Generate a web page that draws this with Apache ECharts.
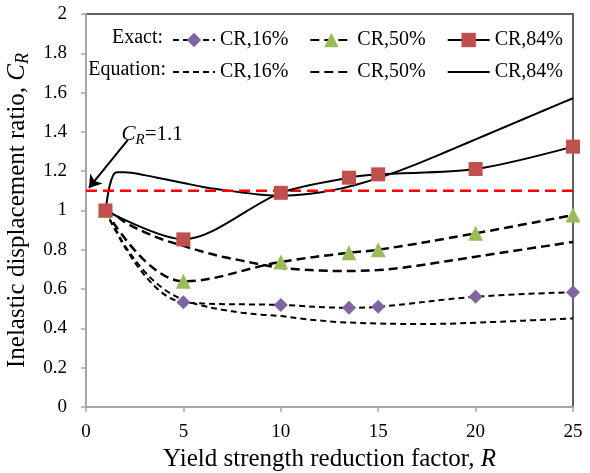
<!DOCTYPE html>
<html>
<head>
<meta charset="utf-8">
<script src="https://cdn.jsdelivr.net/npm/echarts@6/dist/echarts.min.js"></script>
<style>
  html, body { margin: 0; padding: 0; background: #fff; }
  #main { width: 590px; height: 473px; }
</style>
</head>
<body>
<div id="main"></div>
<script>
// exact results (markers)
const exactR = [1, 5, 10, 13.5, 15, 20, 25];
const exact16 = [1, 0.533, 0.519, 0.505, 0.51, 0.561, 0.584];
const exact50 = [1, 0.64, 0.738, 0.785, 0.8, 0.884, 0.977];
const exact84 = [1, 0.853, 1.09, 1.167, 1.184, 1.211, 1.325];

// equation curves
const eqR = [1, 1.2, 1.4, 1.6, 2, 3, 4, 5, 6, 7, 8, 9, 10, 11, 12, 13, 14, 15, 16, 17, 18, 19, 20, 21, 22, 23, 24, 25];
const eq16 = [1, 0.96, 0.92, 0.89, 0.82, 0.69, 0.6, 0.545, 0.515, 0.495, 0.48, 0.47, 0.463, 0.45, 0.44, 0.432, 0.428, 0.425, 0.423, 0.422, 0.423, 0.425, 0.429, 0.433, 0.437, 0.442, 0.446, 0.451];
const eq50 = [1, 0.99, 0.98, 0.97, 0.94, 0.89, 0.85, 0.82, 0.79, 0.765, 0.745, 0.725, 0.708, 0.7, 0.695, 0.692, 0.693, 0.697, 0.706, 0.719, 0.734, 0.749, 0.765, 0.78, 0.795, 0.81, 0.825, 0.84];
const eq84 = [1, 1.12, 1.18, 1.195, 1.195, 1.18, 1.16, 1.14, 1.12, 1.105, 1.092, 1.08, 1.074, 1.08, 1.092, 1.11, 1.135, 1.165, 1.199, 1.237, 1.278, 1.32, 1.362, 1.404, 1.446, 1.488, 1.53, 1.571];

const refValue = 1.1;
const arrowFrom = [2.15, 1.36];
const arrowTo = [0.15, 1.115];
const notePos = [3.4, 1.385];

const legendNames = {
  ex16: "CR,16%", ex50: "CR,50%", ex84: "CR,84%",
  eq16: "CR,16%", eq50: "CR,50%", eq84: "CR,84%",
};

const font = "Liberation Serif";
const pairs = (xs, ys) => xs.map((x, i) => [x, ys[i]]);

const chart = echarts.init(document.getElementById("main"));

const legendBase = {
  left: 167,
  itemWidth: 42,
  itemHeight: 18,
  itemGap: 21,
  selectedMode: false,
  formatter: (name) => legendNames[name],
  textStyle: { fontFamily: font, fontSize: 20, color: "#000" },
};

const subRich = (size, color) => ({
  c: { fontFamily: font, fontSize: size, fontStyle: "italic", color, lineHeight: size + 5, verticalAlign: "middle" },
  s: { fontFamily: font, fontSize: Math.round(size * 0.7), fontStyle: "italic", color, lineHeight: Math.round(size * 0.7), verticalAlign: "bottom" },
  t: { fontFamily: font, fontSize: size, color, lineHeight: size + 5, verticalAlign: "middle" },
});

const eqLine = (name, values, lineStyle) => ({
  name, type: "line", data: pairs(eqR, values),
  symbol: "none", smooth: 0.35,
  lineStyle: { color: "#000", ...lineStyle },
  itemStyle: { color: "#000" },
});

const option = {
  animation: false,
  grid: {
    left: 86, right: 17, top: 14, bottom: 66,
    show: true, borderColor: "#606060", borderWidth: 2,
    outerBoundsMode: "none",
  },
  legend: [
    { ...legendBase, top: 25, data: ["ex16", "ex50", "ex84"] },
    { ...legendBase, top: 57, data: ["eq16", "eq50", "eq84"], itemStyle: { opacity: 0 } },
  ],
  graphic: [
    { type: "text", x: 163, y: 38, style: { text: "Exact:", fontFamily: font, fontSize: 20, fill: "#000", align: "right", verticalAlign: "middle" } },
    { type: "text", x: 166, y: 70, style: { text: "Equation:", fontFamily: font, fontSize: 20, fill: "#000", align: "right", verticalAlign: "middle" } },
  ],
  xAxis: {
    type: "value", min: 0, max: 25, interval: 5,
    name: "{t|Yield strength reduction factor, }{c|R}",
    nameLocation: "middle", nameGap: 37,
    nameTextStyle: { fontFamily: font, fontSize: 25, color: "#000", rich: subRich(25, "#000") },
    axisLine: { lineStyle: { color: "#a6a6a6", width: 2 } },
    axisTick: { length: 5, lineStyle: { color: "#a6a6a6", width: 1.5 } },
    axisLabel: { fontFamily: font, fontSize: 19, color: "#000", margin: 16 },
    splitLine: { show: false },
  },
  yAxis: {
    type: "value", min: 0, max: 2, interval: 0.2,
    name: "{t|Inelastic displacement ratio, }{c|C}{s|R}",
    nameLocation: "middle", nameGap: 50, nameRotate: 90,
    nameTextStyle: { fontFamily: font, fontSize: 25, color: "#000", rich: subRich(25, "#000") },
    axisLine: { show: true, lineStyle: { color: "#a6a6a6", width: 2 } },
    axisTick: { show: true, length: 5, lineStyle: { color: "#a6a6a6", width: 1.5 } },
    axisLabel: { fontFamily: font, fontSize: 19, color: "#000", margin: 19 },
    splitLine: { show: false },
  },
  series: [
    eqLine("eq16", eq16, { width: 2, type: [6, 4] }),
    eqLine("eq50", eq50, { width: 2.5, type: [9, 5] }),
    eqLine("eq84", eq84, { width: 2 }),
    {
      name: "ex16", type: "line", data: pairs(exactR, exact16),
      symbol: "diamond", symbolSize: 14, smooth: 0.4, z: 5,
      lineStyle: { color: "#000", width: 2, type: [6, 4] },
      itemStyle: { color: "#8064a2" },
    },
    {
      name: "ex50", type: "line", data: pairs(exactR, exact50),
      symbol: "triangle", symbolSize: 15, smooth: 0.4, z: 5,
      lineStyle: { color: "#000", width: 2.5, type: [9, 5] },
      itemStyle: { color: "#9bbb59" },
    },
    {
      name: "ex84", type: "line", data: pairs(exactR, exact84),
      symbol: "rect", symbolSize: 14, smooth: 0.3, z: 6,
      lineStyle: { color: "#000", width: 2 },
      itemStyle: { color: "#c0504d" },
    },
    {
      name: "ref", type: "line", data: [[0, refValue], [25, refValue]],
      symbol: "none", z: 4,
      lineStyle: { color: "#ff0000", width: 2.5, type: [11, 6] },
      markLine: {
        silent: true, symbol: ["none", "arrow"], symbolSize: 12,
        label: { show: false },
        lineStyle: { color: "#000", width: 2, type: "solid" },
        data: [[{ coord: arrowFrom }, { coord: arrowTo }]],
      },
      markPoint: {
        silent: true, symbol: "circle", symbolSize: 1,
        itemStyle: { color: "rgba(0,0,0,0)" },
        data: [{ coord: notePos }],
        label: {
          show: true, position: "inside",
          formatter: "{c|C}{s|R}{t|=1.1}",
          rich: subRich(21, "#000"),
        },
      },
    },
  ],
};

chart.setOption(option);
</script>
</body>
</html>
